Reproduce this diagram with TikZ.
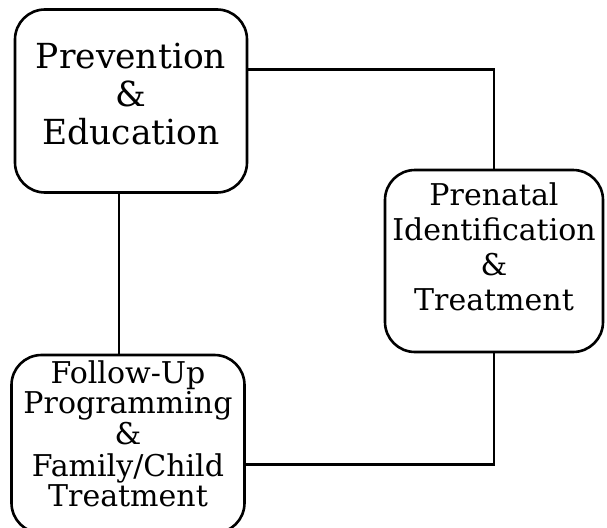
\documentclass[tikz,border=0pt]{standalone}
\usepackage{fontspec}
\setmainfont{DejaVu Serif}
\usetikzlibrary{positioning,calc}
\tikzset{
flow/.style={x=1pt,y=-1pt,line join=miter},
stage/.style={rectangle,draw,line width=2.6pt,rounded corners=30pt,inner sep=0pt},
link/.style={line width=2.6pt},
}
% text block of a stage, lifted a little
\newcommand{\stagetext}[2]{\raisebox{#1}[\height][\depth]{\begin{tabular}{@{}c@{}}#2\end{tabular}}}

\begin{document}
\begin{tikzpicture}[flow]
                    \useasboundingbox (0,0) rectangle (607,527);
                    \node[stage,minimum width=232pt,minimum height=183pt,
                      font=\fontsize{34.5}{38}\selectfont] (prev) at (131,101)
                      {\stagetext{2pt}{Prevention\\ \&\\ Education}};
                    \node[stage,minimum width=218pt,minimum height=182pt,
                      font=\fontsize{30}{35}\selectfont] (pren) at (494,261)
                      {\stagetext{10pt}{Prenatal\\ Identification\\ \&\\ Treatment}};
                    \node[stage,minimum width=233pt,minimum height=178pt,
                      font=\fontsize{30}{29}\selectfont] (foll) at (128,444)
                      {\stagetext{6pt}{Follow-Up\\ Programming\\ \&\\ Family/Child\\ Treatment}};
                    
                    
                    \draw[link] (prev.15) -| (pren.north);
                    \draw[link] ([xshift=-12pt]prev.south) -- ([xshift=-12pt]prev.south |- foll.north);
                    \draw[link] (foll.-10) -| (pren.south);
                \end{tikzpicture}
\end{document}
